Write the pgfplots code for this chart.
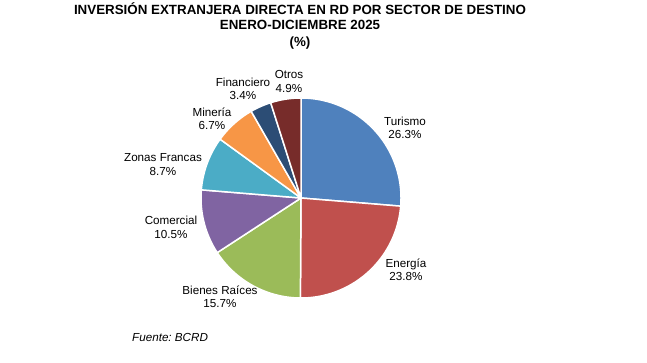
\documentclass[border=0pt]{standalone}
\usepackage{pgfplots}
\pgfplotsset{compat=1.18}
\usepackage{fontspec}
\setmainfont{Liberation Sans}
\frenchspacing
\definecolor{cTur}{HTML}{4F81BD}
\definecolor{cEne}{HTML}{C0504D}
\definecolor{cBie}{HTML}{9BBB59}
\definecolor{cCom}{HTML}{8064A2}
\definecolor{cZon}{HTML}{4BACC6}
\definecolor{cMin}{HTML}{F79646}
\definecolor{cFin}{HTML}{2C4D75}
\definecolor{cOtr}{HTML}{772C2A}
% pie centre and radius (in picture units)
\def\cx{301}\def\cy{165}\def\rr{100}
\def\cum{90}
\newcommand\slice[2]{%
  \pgfmathsetmacro\cumnext{\cum-3.6*#1}%
  \edef\doslice{\noexpand\addplot[fill=#2,draw=white,line width=1.5pt,line join=round,domain=\cum:\cumnext,samples=80,variable=\noexpand\t] ({\cx+\rr*cos(\noexpand\t)},{\cy+\rr*sin(\noexpand\t)}) -- (axis cs:\cx,\cy) -- cycle;}%
  \doslice
  \global\let\cum\cumnext}
\tikzset{
  lab/.style={inner sep=0pt, align=center, font=\fontsize{11.7}{13.5}\selectfont},
  ttl/.style={inner sep=0pt, align=center, font=\fontsize{13.4}{16}\selectfont\bfseries}
}
\begin{document}
\begin{tikzpicture}
\begin{axis}[
  width=647bp, height=363bp, scale only axis,
  xmin=0, xmax=647, ymin=0, ymax=363,
  hide axis, clip=false
]
\path (axis cs:0,0) rectangle (axis cs:647,363);
% Data: share by sector (%), clockwise from the top
\slice{26.3}{cTur} % Turismo
\slice{23.8}{cEne} % Energía
\slice{15.7}{cBie} % Bienes Raíces
\slice{10.5}{cCom} % Comercial
\slice{8.7}{cZon}  % Zonas Francas
\slice{6.7}{cMin}  % Minería
\slice{3.4}{cFin}  % Financiero
\slice{4.9}{cOtr}  % Otros

\node[ttl] at (axis cs:300,354) {INVERSIÓN EXTRANJERA DIRECTA EN RD POR SECTOR DE DESTINO};
\node[ttl] at (axis cs:300,338) {ENERO-DICIEMBRE 2025};
\node[ttl] at (axis cs:300,320) {(\%)};

\node[lab] at (axis cs:405,235) {Turismo\\26.3\%};
\node[lab] at (axis cs:406,93) {Energía\\23.8\%};
\node[lab] at (axis cs:220,66) {Bienes Raíces\\15.7\%};
\node[lab] at (axis cs:171,135.5) {Comercial\\10.5\%};
\node[lab] at (axis cs:163,198.5) {Zonas Francas\\8.7\%};
\node[lab] at (axis cs:212,244) {Minería\\6.7\%};
\node[lab] at (axis cs:243,274) {Financiero\\3.4\%};
\node[lab] at (axis cs:289,281.5) {Otros\\4.9\%};

\node[lab, anchor=west, font=\fontsize{11.7}{13.5}\selectfont\itshape] at (axis cs:132,26) {Fuente: BCRD};
\end{axis}
\end{tikzpicture}
\end{document}
